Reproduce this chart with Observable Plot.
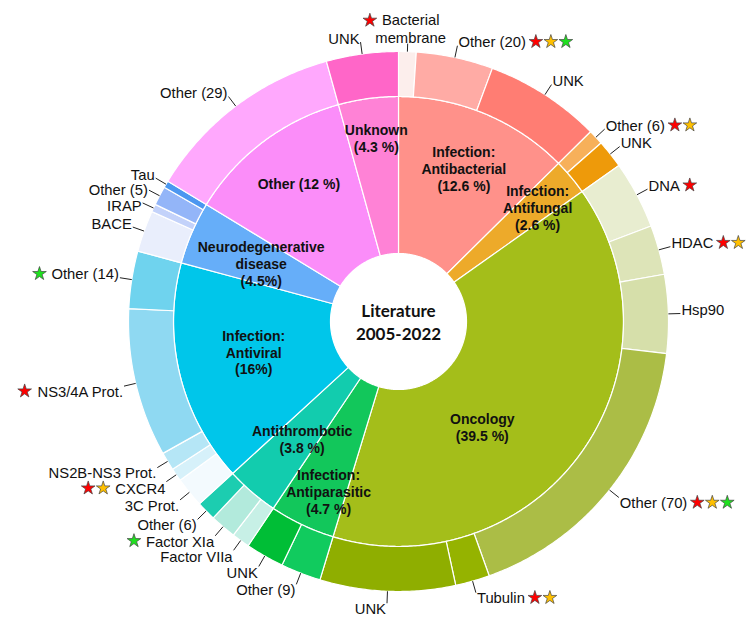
<!DOCTYPE html>
<html><head><meta charset="utf-8">
<script src="https://cdn.jsdelivr.net/npm/d3@7"></script>
<script src="https://cdn.jsdelivr.net/npm/@observablehq/plot@0.6"></script>
<style>body{margin:0;background:#fff;} #chart{width:750px;height:625px;}</style>
</head><body><div id="chart"></div>
<script>
// ---------- DATA ----------
const categories = ["Antibacterial","Antifungal","Oncology","Antiparasitic","Antithrombotic","Antiviral","Neurodegenerative","Other","Unknown"];
const categoryShare = [12.6, 2.6, 39.5, 4.7, 3.8, 16, 4.5, 12, 4.3];
const categoryLabels = ["Infection:\nAntibacterial\n(12.6 %)","Infection:\nAntifungal\n(2.6 %)","Oncology\n(39.5 %)","Infection:\nAntiparasitic\n(4.7 %)","Antithrombotic\n(3.8 %)","Infection:\nAntiviral\n(16%)","Neurodegenerative\ndisease\n(4.5%)","Other (12 %)","Unknown\n(4.3 %)"];
const categoryColors = ["#FF918A","#EDAA2A","#A4BE1A","#12C75B","#12CCAE","#00C6EA","#66AEF9","#FB8DF9","#FF82D6"];

const targetParent = ["Antibacterial","Antibacterial","Antibacterial","Antifungal","Antifungal","Oncology","Oncology","Oncology","Oncology","Oncology","Oncology","Antiparasitic","Antiparasitic","Antithrombotic","Antithrombotic","Antithrombotic","Antiviral","Antiviral","Antiviral","Antiviral","Antiviral","Neurodegenerative","Neurodegenerative","Neurodegenerative","Neurodegenerative","Other","Unknown"];
const targetNames = ["Bacterial\nmembrane","Other (20)","UNK","Other (6)","UNK","DNA","HDAC","Hsp90","Other (70)","Tubulin","UNK","Other (9)","UNK","Factor VIIa","Factor XIa","Other (6)","3C Prot.","CXCR4","NS2B-NS3 Prot.","NS3/4A Prot.","Other (14)","BACE","IRAP","Other (5)","Tau","Other (29)","UNK"];
const targetShare = [1.05,4.6,6.95,0.9,1.7,4.05,2.95,4.7,17.65,2.05,8.1,2.4,2.3,1.08,1.56,1.16,1.8,0.78,1.1,8.88,3.44,2.47,0.47,1.14,0.42,12,4.3];
const targetColors = ["#FCEEEC","#FFABA5","#FF7D73","#F7B05A","#EE9A0A","#E8EDD0","#DDE4B8","#D6DFAA","#ABBD46","#95B300","#8FAE00","#11CB5E","#00BE36","#C7F0E6","#B2EADC","#1CCDB0","#F3FAFE","#D6F1FA","#B5E6F6","#8FD9F2","#6FD3EE","#E9EEFC","#C3D2FA","#93B5F8","#4C97F0","#FFA8FD","#FF66C8"];
const targetStars = ["R","RYG","","RY","","R","RY","","RYG","RY","","","","","G","","","RY","","R","G","","","","","",""];
const starColors = {R:"#FF0000", Y:"#FFC000", G:"#1FE01F"};
const centerTitle = ["Literature\n2005-2022"];

// ---------- LAYOUT ----------
const W = 750, H = 625, CX = 398, CY = 321;
const R0 = 68, R1 = 225, R2 = 270;
const innerShift = [0.5, 0.6, 15.8, -3.05, -1.35, 1.7, -0.4, 1.2, 0.85];
const innerRadius = [166, 180, 135, 184, 152, 148, 149, 170, 185];
const FS = 14.8;

const rad = a => a * Math.PI / 180;
const px = (r, a) => r * Math.sin(rad(a));
const py = (r, a) => -r * Math.cos(rad(a));

const segs = [];
const children = [];
const total = d3.sum(categoryShare);
let acc = 0;
categories.forEach((c, i) => {
  const a0 = acc / total * 360; acc += categoryShare[i]; const a1 = acc / total * 360;
  segs.push({id: "c" + i, a0, a1, r0: R0, r1: R1, color: categoryColors[i]});
  const idx = targetParent.map((p, j) => p === c ? j : -1).filter(j => j >= 0);
  const s = d3.sum(idx, j => targetShare[j]);
  let b = a0;
  idx.forEach(j => {
    const span = (a1 - a0) * targetShare[j] / s;
    children.push({j, a0: b, a1: b + span});
    segs.push({id: "t" + j, a0: b, a1: b + span, r0: R1, r1: R2, color: targetColors[j]});
    b += span;
  });
});

const polyPts = [];
for (const s of segs) {
  const n = Math.max(2, Math.ceil((s.a1 - s.a0) / 0.5));
  for (let i = 0; i <= n; i++) { const a = s.a0 + (s.a1 - s.a0) * i / n; polyPts.push({id: s.id, color: s.color, x: px(s.r1, a), y: py(s.r1, a)}); }
  for (let i = n; i >= 0; i--) { const a = s.a0 + (s.a1 - s.a0) * i / n; polyPts.push({id: s.id, color: s.color, x: px(s.r0, a), y: py(s.r0, a)}); }
}

const innerLabels = segs.filter(s => s.id[0] === "c").map((s, i) => {
  const a = (s.a0 + s.a1) / 2 + innerShift[i];
  return {x: px(innerRadius[i], a), y: py(innerRadius[i], a), text: categoryLabels[i]};
});

const ctx = document.createElement("canvas").getContext("2d");
ctx.font = `${FS}px "Liberation Sans"`;
const tw = s => ctx.measureText(s).width;

const outer = children.map(({j, a0, a1}) => {
  const m = (a0 + a1) / 2;
  const sn = Math.sin(rad(m)), cs = Math.cos(rad(m));
  const anchor = sn >= 0.05 ? "start" : sn <= -0.02 ? "end" : "middle";
  const rEnd = anchor === "middle" ? 278 : 282;
  const x1 = px(R2, m), y1 = py(R2, m), x2 = px(rEnd, m), y2 = py(rEnd, m);
  let tx = x2 + (anchor === "start" ? 1 : anchor === "end" ? -1 : 3);
  let ty = anchor === "middle" ? y2 - 1 : y2 + (cs >= 0 ? -4 : 5);
  return {j, m, anchor, x1, y1, x2, y2, tx, ty, text: targetNames[j], stars: targetStars[j]};
});
// vertical dodge for crowded left-side labels (fan downward)
const left = outer.filter(d => d.anchor === "end").sort((a, b) => a.ty - b.ty);
for (let i = 1; i < left.length; i++) if (left[i].ty < left[i - 1].ty + 15.5) left[i].ty = left[i - 1].ty + 15.5;
for (let i = left.length - 2; i >= 0; i--) {
  if (left[i].ty < 240 && left[i].ty > 150 && left[i + 1].ty - left[i].ty < 16 && left[i + 1].ty < 240) left[i].ty = Math.max(left[i].ty, left[i + 1].ty - 15.5);
}

const stars = [];
for (const d of outer) {
  const n = d.stars.length;
  [...d.stars].forEach((c, k) => {
    let x, y = d.ty;
    if (d.anchor === "start") x = d.tx + tw(d.text) + 10 + k * 15;
    else if (d.anchor === "end") x = d.tx - tw(d.text) - 12 - (n - 1 - k) * 15;
    else { const first = d.text.split("\n")[0]; x = d.tx - tw(first) / 2 - 12 - (n - 1 - k) * 15; y = d.ty - FS * 1.2 - 4.5; }
    stars.push({x, y, color: starColors[c]});
  });
}

const textOpts = {x: "tx", y: "ty", text: "text", fontSize: FS, fill: "#111", lineHeight: 1.2};
const chart = Plot.plot({
  width: W, height: H, margin: 0,
  x: {domain: [-CX, W - CX], range: [0, W], axis: null},
  y: {domain: [-CY, H - CY], range: [0, H], axis: null},
  color: {type: "identity"},
  style: {fontFamily: "'Liberation Sans', Arial, sans-serif", background: "white"},
  marks: [
    Plot.line(polyPts, {x: "x", y: "y", z: "id", fill: "color", stroke: "white", strokeWidth: 1.2, curve: "linear-closed"}),
    Plot.link(outer, {x1: "x1", y1: "y1", x2: "x2", y2: "y2", stroke: "#222", strokeWidth: 1}),
    Plot.text(outer.filter(d => d.anchor === "start"), {...textOpts, textAnchor: "start"}),
    Plot.text(outer.filter(d => d.anchor === "end"), {...textOpts, textAnchor: "end"}),
    Plot.text(outer.filter(d => d.anchor === "middle"), {...textOpts, textAnchor: "middle", lineAnchor: "bottom"}),
    Plot.dot(stars, {x: "x", y: "y", fill: "color", symbol: "star", r: 4.3, stroke: "#444", strokeWidth: 0.7}),
    Plot.text(innerLabels, {x: "x", y: "y", text: "text", fontSize: 14, fontWeight: "bold", fill: "#111", lineHeight: 1.2}),
    Plot.text(centerTitle, {x: () => 0, y: () => 0, text: d => d, fontSize: 17, fontWeight: "bold", fontFamily: "Lato, 'Open Sans', sans-serif", fill: "#111", lineHeight: 1.35})
  ]
});
document.getElementById("chart").appendChild(chart);
</script>
</body></html>
